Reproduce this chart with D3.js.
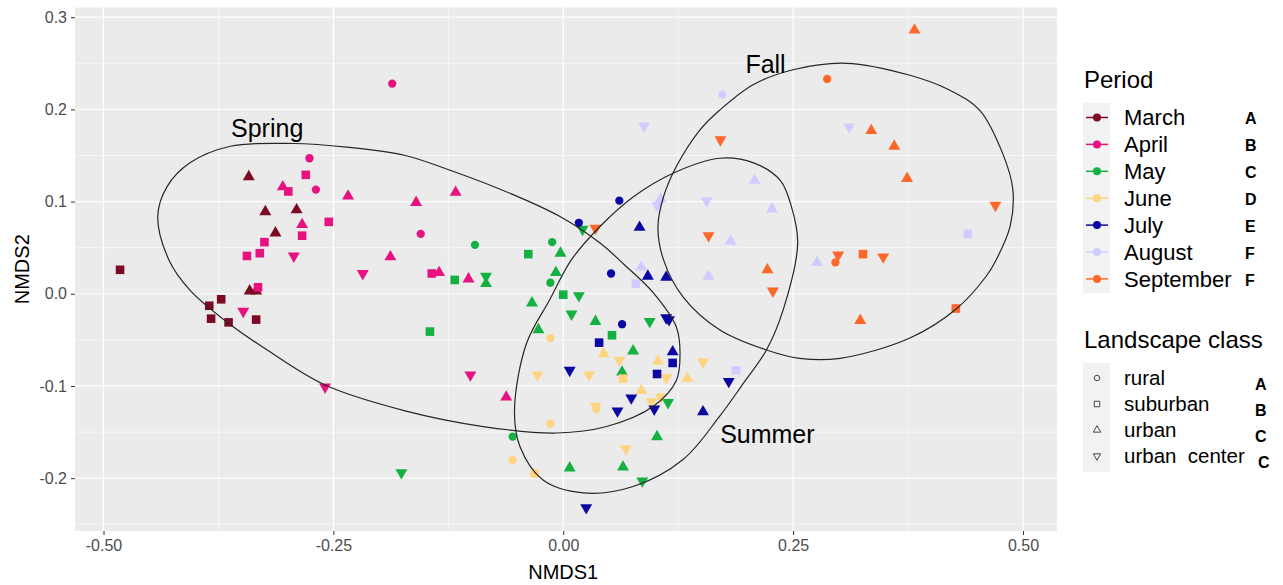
<!DOCTYPE html>
<html lang="en">
<head>
  <meta charset="UTF-8">
  <title>NMDS</title>
  <script src="https://cdn.jsdelivr.net/npm/d3@7"></script>
  <style>
    body { margin: 0; background: #fff; }
    text { font-family: 'Liberation Sans', Arial, sans-serif; }
    .axis path { display: none; }
    .axis line { stroke: #333; }
    .axis text { font-size: 16px; fill: #4d4d4d; font-family: 'Liberation Sans', Arial, sans-serif; }
  </style>
</head>
<body>
<script>
  // categories
  const periods = ['March', 'April', 'May', 'June', 'July', 'August', 'September']
  const periodLetters = ['A', 'B', 'C', 'D', 'E', 'F', 'F']
  const classes = ['rural', 'suburban', 'urban', 'urban  center']
  const classCodes = ['r', 's', 'u', 'c']
  const classLetters = ['A', 'B', 'C', 'C']
  const xTicks = [-0.5, -0.25, 0, 0.25, 0.5]
  const yTicks = [-0.2, -0.1, 0, 0.1, 0.2, 0.3]

  // samples: [NMDS1, NMDS2, landscape class]
  const march = [
    [-0.342, 0.127, 'u'], [-0.324, 0.089, 'u'], [-0.290, 0.091, 'u'], [-0.313, 0.066, 'u'],
    [-0.341, 0.003, 'u'], [-0.334, 0.003, 'u'],
    [-0.482, 0.026, 's'], [-0.372, -0.006, 's'], [-0.385, -0.013, 's'], [-0.383, -0.027, 's'],
    [-0.364, -0.031, 's'], [-0.334, -0.028, 's']
  ]
  const april = [
    [-0.186, 0.228, 'r'], [-0.276, 0.147, 'r'], [-0.280, 0.129, 's'], [-0.305, 0.116, 'u'],
    [-0.299, 0.111, 's'], [-0.269, 0.113, 'r'], [-0.234, 0.106, 'u'], [-0.284, 0.075, 'u'],
    [-0.255, 0.078, 's'], [-0.284, 0.063, 's'], [-0.325, 0.056, 's'], [-0.330, 0.044, 's'],
    [-0.344, 0.041, 's'], [-0.293, 0.041, 'c'], [-0.188, 0.040, 'u'], [-0.332, 0.007, 's'],
    [-0.348, -0.019, 'c'], [-0.218, 0.022, 'c'], [-0.259, -0.101, 'c'], [-0.117, 0.110, 'u'],
    [-0.160, 0.099, 'u'], [-0.155, 0.065, 'r'], [-0.143, 0.022, 's'], [-0.135, 0.023, 'u'],
    [-0.103, 0.016, 'u'], [-0.101, -0.088, 'c'], [-0.062, -0.112, 'u']
  ]
  const may = [
    [-0.176, -0.194, 'c'], [-0.096, 0.053, 'r'], [-0.012, 0.056, 'r'], [-0.038, 0.043, 's'],
    [-0.003, 0.044, 'u'], [0.021, 0.070, 'c'], [-0.118, 0.015, 's'], [-0.084, 0.011, 'u'],
    [-0.084, 0.019, 'c'], [-0.008, 0.023, 'u'], [-0.014, 0.012, 'r'], [0.000, -0.001, 's'],
    [0.017, -0.002, 'c'], [-0.034, -0.010, 'u'], [0.009, -0.022, 'c'], [0.035, -0.030, 'u'],
    [0.094, -0.030, 'c'], [-0.027, -0.039, 'u'], [-0.145, -0.041, 's'], [0.053, -0.045, 's'],
    [0.076, -0.062, 'u'], [0.064, -0.085, 'u'], [0.114, -0.118, 'c'], [-0.055, -0.155, 'r'],
    [0.102, -0.155, 'u'], [0.007, -0.189, 'u'], [0.065, -0.188, 'u'], [0.086, -0.203, 'c']
  ]
  const june = [
    [-0.014, -0.048, 'r'], [0.044, -0.065, 'u'], [0.061, -0.072, 'c'], [0.103, -0.073, 'u'],
    [0.152, -0.074, 'c'], [-0.028, -0.088, 'c'], [0.028, -0.088, 'c'], [0.065, -0.092, 's'],
    [0.112, -0.091, 'c'], [0.135, -0.092, 'u'], [0.085, -0.105, 'u'], [0.096, -0.117, 'c'],
    [0.106, -0.112, 'c'], [0.035, -0.122, 'c'], [0.036, -0.125, 'r'], [-0.014, -0.141, 'r'],
    [0.068, -0.168, 'c'], [-0.055, -0.180, 'r'], [-0.031, -0.195, 's']
  ]
  const july = [
    [0.061, 0.101, 'r'], [0.017, 0.077, 'r'], [0.083, 0.072, 'u'], [0.052, 0.022, 'r'],
    [0.092, 0.019, 'u'], [0.112, 0.018, 'u'], [0.112, -0.026, 'c'], [0.115, -0.028, 'c'],
    [0.064, -0.033, 'r'], [0.039, -0.053, 's'], [0.119, -0.063, 'u'], [0.119, -0.075, 's'],
    [0.007, -0.083, 'c'], [0.102, -0.087, 's'], [0.180, -0.095, 'c'], [0.074, -0.113, 'c'],
    [0.059, -0.127, 'c'], [0.099, -0.125, 'c'], [0.152, -0.128, 'u'], [0.025, -0.232, 'c']
  ]
  const august = [
    [0.173, 0.216, 'r'], [0.088, 0.182, 'c'], [0.311, 0.181, 'c'], [0.208, 0.123, 'u'],
    [0.156, 0.101, 'c'], [0.102, 0.096, 'c'], [0.106, 0.103, 'u'], [0.227, 0.092, 'u'],
    [0.182, 0.057, 'u'], [0.440, 0.065, 's'], [0.085, 0.029, 'u'], [0.276, 0.034, 'u'],
    [0.079, 0.011, 's'], [0.158, 0.019, 'u'], [0.188, -0.083, 's']
  ]
  const september = [
    [0.382, 0.286, 'u'], [0.287, 0.233, 'r'], [0.171, 0.167, 'c'], [0.335, 0.177, 'u'],
    [0.360, 0.160, 'u'], [0.374, 0.125, 'u'], [0.470, 0.096, 'c'], [0.158, 0.063, 'c'],
    [0.035, 0.071, 'c'], [0.299, 0.042, 'c'], [0.296, 0.034, 'r'], [0.326, 0.043, 's'],
    [0.348, 0.040, 'c'], [0.222, 0.026, 'u'], [0.228, 0.003, 'c'], [0.323, -0.029, 'u'],
    [0.427, -0.016, 's']
  ]

  // season ellipses, outline [NMDS1, NMDS2]
  const springEllipse = [
    [-0.441, 0.084], [-0.431, 0.116], [-0.406, 0.142], [-0.362, 0.160], [-0.294, 0.163],
    [-0.235, 0.159], [-0.172, 0.150], [-0.123, 0.134], [-0.058, 0.109], [-0.004, 0.084],
    [0.040, 0.055], [0.067, 0.031], [0.098, 0.001], [0.123, -0.036], [0.127, -0.065],
    [0.123, -0.094], [0.098, -0.122], [0.047, -0.144], [-0.007, -0.151], [-0.087, -0.144],
    [-0.172, -0.127], [-0.259, -0.099], [-0.322, -0.061], [-0.364, -0.032], [-0.406, 0.004],
    [-0.429, 0.037]
  ]
  const summerEllipse = [
    [0.170, 0.147], [0.207, 0.142], [0.236, 0.123], [0.248, 0.095], [0.255, 0.055],
    [0.239, -0.018], [0.221, -0.061], [0.196, -0.097], [0.170, -0.133], [0.130, -0.180],
    [0.076, -0.209], [0.022, -0.216], [-0.022, -0.202], [-0.047, -0.166], [-0.053, -0.126],
    [-0.040, -0.054], [-0.015, -0.007], [0.009, 0.037], [0.040, 0.073], [0.076, 0.105],
    [0.120, 0.131]
  ]
  const fallEllipse = [
    [0.170, 0.199], [0.207, 0.227], [0.250, 0.243], [0.308, 0.250], [0.377, 0.237],
    [0.420, 0.221], [0.453, 0.199], [0.478, 0.152], [0.489, 0.113], [0.486, 0.073],
    [0.471, 0.037], [0.460, 0.019], [0.428, -0.016], [0.377, -0.048], [0.301, -0.070],
    [0.257, -0.070], [0.221, -0.061], [0.170, -0.039], [0.130, -0.003], [0.109, 0.037],
    [0.103, 0.073], [0.109, 0.105], [0.123, 0.138], [0.149, 0.178]
  ]
  const seasonNames = ['Spring', 'Summer', 'Fall']
  const seasonLabelPos = [[-0.322, 0.170], [0.222, -0.1615], [0.220, 0.239]]

  const periodColors = ['#7b0a22', '#e6127f', '#14b041', '#ffd480', '#0c07a3', '#d0ccff', '#ff6629']
  const periodData = [march, april, may, june, july, august, september]

  const width = 1283
  const height = 585
  const panel = { left: 75, right: 1057, top: 7.5, bottom: 531 }

  const svg = d3.select('body').append('svg')
    .attr('width', width)
    .attr('height', height)

  const x = d3.scaleLinear().domain([-0.531, 0.537]).range([panel.left, panel.right])
  const y = d3.scaleLinear().domain([-0.2573, 0.3105]).range([panel.bottom, panel.top])

  // panel background + grid
  svg.append('rect')
    .attr('x', panel.left).attr('y', panel.top)
    .attr('width', panel.right - panel.left).attr('height', panel.bottom - panel.top)
    .attr('fill', '#ebebeb')

  const minorX = [-0.375, -0.125, 0.125, 0.375]
  const minorY = [-0.25, -0.15, -0.05, 0.05, 0.15, 0.25]
  const grid = svg.append('g')
  grid.selectAll('.mx').data(minorX).enter().append('line')
    .attr('x1', d => x(d)).attr('x2', d => x(d))
    .attr('y1', panel.top).attr('y2', panel.bottom)
    .attr('stroke', '#fff').attr('stroke-width', 0.6)
  grid.selectAll('.my').data(minorY).enter().append('line')
    .attr('y1', d => y(d)).attr('y2', d => y(d))
    .attr('x1', panel.left).attr('x2', panel.right)
    .attr('stroke', '#fff').attr('stroke-width', 0.6)
  grid.selectAll('.gx').data(xTicks).enter().append('line')
    .attr('x1', d => x(d)).attr('x2', d => x(d))
    .attr('y1', panel.top).attr('y2', panel.bottom)
    .attr('stroke', '#fff').attr('stroke-width', 1.2)
  grid.selectAll('.gy').data(yTicks).enter().append('line')
    .attr('y1', d => y(d)).attr('y2', d => y(d))
    .attr('x1', panel.left).attr('x2', panel.right)
    .attr('stroke', '#fff').attr('stroke-width', 1.2)

  // axes
  svg.append('g')
    .attr('class', 'axis')
    .attr('transform', `translate(0,${panel.bottom})`)
    .call(d3.axisBottom(x).tickValues(xTicks).tickSize(4).tickPadding(5).tickFormat(d => d.toFixed(2)))
  svg.append('g')
    .attr('class', 'axis')
    .attr('transform', `translate(${panel.left},0)`)
    .call(d3.axisLeft(y).tickValues(yTicks).tickSize(4).tickPadding(4).tickFormat(d => d.toFixed(1)))

  svg.append('text')
    .attr('x', x(0)).attr('y', 579)
    .attr('text-anchor', 'middle')
    .attr('font-size', 20)
    .text('NMDS1')
  svg.append('text')
    .attr('transform', `translate(29,${(panel.top + panel.bottom) / 2}) rotate(-90)`)
    .attr('text-anchor', 'middle')
    .attr('font-size', 20)
    .text('NMDS2')

  // points
  const shapeSize = { r: 54, s: 74, u: 62, c: 62 }
  const shapeType = { r: d3.symbolCircle, s: d3.symbolSquare, u: d3.symbolTriangle, c: d3.symbolTriangle }
  const pts = svg.append('g')
  periodData.forEach((rows, i) => {
    pts.selectAll('.p' + i)
      .data(rows)
      .enter()
      .append('path')
      .attr('d', d => d3.symbol().type(shapeType[d[2]]).size(shapeSize[d[2]])())
      .attr('transform', d => `translate(${x(d[0])},${y(d[1])})` + (d[2] === 'c' ? ' rotate(180)' : ''))
      .attr('fill', periodColors[i])
  })

  // ellipses
  const outline = d3.line()
    .x(d => x(d[0]))
    .y(d => y(d[1]))
    .curve(d3.curveCatmullRomClosed.alpha(0.5))
  svg.append('g').selectAll('path')
    .data([springEllipse, summerEllipse, fallEllipse])
    .enter()
    .append('path')
    .attr('d', outline)
    .attr('fill', 'none')
    .attr('stroke', '#262626')
    .attr('stroke-width', 1.2)

  svg.append('g').selectAll('text')
    .data(seasonNames)
    .enter()
    .append('text')
    .attr('x', (d, i) => x(seasonLabelPos[i][0]))
    .attr('y', (d, i) => y(seasonLabelPos[i][1]))
    .attr('text-anchor', 'middle')
    .attr('font-size', 25)
    .attr('fill', '#000')
    .text(d => d)

  // legend: Period
  const lg = svg.append('g')
  lg.append('text').attr('x', 1084).attr('y', 88).attr('font-size', 24).text('Period')
  lg.append('rect').attr('x', 1083).attr('y', 103).attr('width', 27).attr('height', 190).attr('fill', '#f2f2f2')
  const rowP = i => 117.5 + i * 26.9
  periods.forEach((p, i) => {
    lg.append('line')
      .attr('x1', 1086).attr('x2', 1108)
      .attr('y1', rowP(i)).attr('y2', rowP(i))
      .attr('stroke', periodColors[i]).attr('stroke-width', 1.5)
    lg.append('circle')
      .attr('cx', 1097).attr('cy', rowP(i)).attr('r', 4)
      .attr('fill', periodColors[i])
    lg.append('text')
      .attr('x', 1124).attr('y', rowP(i)).attr('dy', '0.36em')
      .attr('font-size', 22)
      .text(p)
    lg.append('text')
      .attr('x', 1245).attr('y', rowP(i) + 1).attr('dy', '0.36em')
      .attr('font-size', 16).attr('font-weight', 'bold')
      .text(periodLetters[i])
  })

  // legend: Landscape class
  lg.append('text').attr('x', 1084).attr('y', 348).attr('font-size', 24).text('Landscape class')
  lg.append('rect').attr('x', 1083).attr('y', 363).attr('width', 27).attr('height', 109).attr('fill', '#f2f2f2')
  const rowC = i => 378 + i * 26
  classes.forEach((c, i) => {
    const code = classCodes[i]
    lg.append('path')
      .attr('d', d3.symbol().type(shapeType[code]).size(code === 's' ? 30 : 24)())
      .attr('transform', `translate(1097,${rowC(i)})` + (code === 'c' ? ' rotate(180)' : ''))
      .attr('fill', 'none').attr('stroke', '#333').attr('stroke-width', 0.9)
    lg.append('text')
      .attr('x', 1124).attr('y', rowC(i)).attr('dy', '0.36em')
      .attr('font-size', 20.5)
      .style('white-space', 'pre')
      .text(c)
    lg.append('text')
      .attr('x', i === 3 ? 1258 : 1255).attr('y', rowC(i) + 6).attr('dy', '0.36em')
      .attr('font-size', 16).attr('font-weight', 'bold')
      .text(classLetters[i])
  })
</script>
</body>
</html>
